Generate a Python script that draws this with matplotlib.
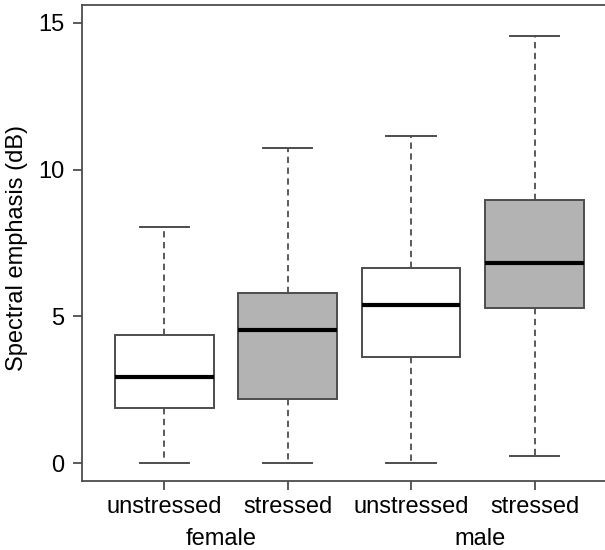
import matplotlib
matplotlib.use("Agg")
import matplotlib.pyplot as plt

plt.rcParams['font.family'] = ['Liberation Sans', 'DejaVu Sans']

# values (dB)
conditions = ["unstressed", "stressed", "unstressed", "stressed"]
groups = ["female", "male"]
whisk_lo = [0.0, 0.0, 0.0, 0.24]
q1 = [1.88, 2.2, 3.61, 5.28]
median = [2.93, 4.53, 5.39, 6.82]
q3 = [4.36, 5.8, 6.65, 8.97]
whisk_hi = [8.06, 10.74, 11.15, 14.54]
fills = ["white", "#b3b3b3", "white", "#b3b3b3"]

edge = "#4d4d4d"
fs = 17

stats = []
for i in range(len(conditions)):
    stats.append(dict(whislo=whisk_lo[i], q1=q1[i], med=median[i],
                      q3=q3[i], whishi=whisk_hi[i], fliers=[]))

fig = plt.figure(figsize=(6.05, 5.5), dpi=100)
ax = fig.add_axes([82/605, 69/550, 1 - 82/605 + 0.01, 476/550])

pos = [1, 2, 3, 4]
bp = ax.bxp(stats, positions=pos, widths=0.8, patch_artist=True,
            showfliers=False,
            boxprops=dict(edgecolor=edge, linewidth=1.4),
            medianprops=dict(color="black", linewidth=3, solid_capstyle="butt"),
            whiskerprops=dict(color=edge, linewidth=1.3, linestyle=(0, (3.5, 2.5))),
            capprops=dict(color=edge, linewidth=1.4),
            capwidths=0.4)
for patch, c in zip(bp['boxes'], fills):
    patch.set_facecolor(c)

ax.set_xlim(0.333, 4.62)
ax.set_ylim(-0.6, 15.6)
ax.set_yticks([0, 5, 10, 15])
ax.set_xticks(pos)
ax.set_xticklabels(conditions)

for s in ax.spines.values():
    s.set_color(edge)
    s.set_linewidth(1.3)
ax.spines['right'].set_visible(False)

ax.tick_params(axis='both', colors=edge, labelcolor="black", labelsize=fs,
               length=6.5, width=1.3, pad=4)
ax.tick_params(axis='y', pad=6)

ax.set_ylabel("Spectral emphasis (dB)", fontsize=fs)
ax.yaxis.set_label_coords(-0.102, 0.49)

# group labels under the condition labels
for xg, g in zip([1.46, 3.56], groups):
    ax.text(xg, -0.098, g, transform=ax.get_xaxis_transform(),
            ha="center", va="top", fontsize=fs)

fig.savefig("out.png", dpi=100)
